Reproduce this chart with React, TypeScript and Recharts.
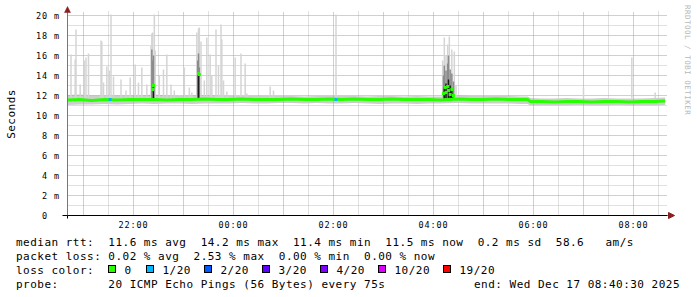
import React from "react";
import {
  ComposedChart,
  Area,
  Line,
  Scatter,
  XAxis,
  YAxis,
  CartesianGrid,
  ReferenceLine,
  ReferenceDot,
} from "recharts";

// time as "HH:MM" (evening of Dec 16 through morning of Dec 17)
const toMin = (s: string) => {
  const p = s.split(":").map(Number);
  const h = p[0] < 12 ? p[0] + 24 : p[0];
  return h * 60 + p[1] + (p[2] || 0) / 60;
};

const T0 = toMin("20:40:48");
const T1 = toMin("08:40:48");
const Y_MAX = 20.4;

const xTickLabels = ["22:00", "00:00", "02:00", "04:00", "06:00", "08:00"];
const xTicks = xTickLabels.map(toMin);
const yTicks = [0, 2, 4, 6, 8, 10, 12, 14, 16, 18, 20];

// median rtt (ms) and the smoke band around it
const medTimes = [
  "20:41", "20:55", "21:10", "21:25", "21:40", "21:55", "22:10", "22:25", "22:40", "22:55",
  "23:10", "23:25", "23:40", "23:55", "00:10", "00:25", "00:40", "00:55", "01:10", "01:25",
  "01:40", "01:55", "02:10", "02:25", "02:40", "02:55", "03:10", "03:25", "03:40", "03:55",
  "04:08", "04:30", "04:45", "05:00", "05:15", "05:30", "05:45", "05:53", "05:56", "06:10",
  "06:25", "06:40", "06:55", "07:10", "07:25", "07:40", "07:55", "08:10", "08:25", "08:38",
];
const medValues = [
  11.55, 11.6, 11.5, 11.6, 11.55, 11.6, 11.6, 11.6, 11.55, 11.6,
  11.6, 11.65, 11.6, 11.6, 11.65, 11.6, 11.6, 11.6, 11.65, 11.6,
  11.6, 11.65, 11.6, 11.65, 11.6, 11.6, 11.65, 11.6, 11.6, 11.6,
  11.55, 11.65, 11.6, 11.6, 11.65, 11.6, 11.6, 11.6, 11.4, 11.4,
  11.35, 11.4, 11.4, 11.35, 11.4, 11.4, 11.35, 11.4, 11.4, 11.45,
];
const smokeLow = [
  11.05, 11.1, 11.1, 11.15, 11.1, 11.15, 11.2, 11.15, 11.2, 11.2,
  11.15, 11.2, 11.2, 11.2, 11.25, 11.2, 11.2, 11.25, 11.25, 11.2,
  11.25, 11.2, 11.2, 11.25, 11.2, 11.15, 11.2, 11.2, 11.15, 11.2,
  11.2, 11.25, 11.2, 11.2, 11.2, 11.2, 11.15, 11.15, 11.0, 11.0,
  11.0, 11.0, 11.05, 11.0, 11.0, 11.05, 11.0, 11.0, 11.0, 11.05,
];
const smokeHigh = [
  12.05, 12.1, 12.0, 12.0, 12.0, 12.0, 12.0, 12.1, 12.0, 11.95,
  12.0, 12.05, 12.0, 11.95, 11.95, 11.95, 11.95, 11.95, 11.95, 11.9,
  11.95, 11.95, 11.95, 11.95, 11.9, 11.95, 11.95, 11.9, 11.95, 11.9,
  11.9, 12.0, 11.95, 11.95, 11.95, 11.95, 11.9, 11.9, 11.75, 11.7,
  11.7, 11.75, 11.7, 11.7, 11.75, 11.7, 11.7, 11.7, 11.75, 11.8,
];

// single-ping peaks (light smoke)
const spikeTimes = [
  "20:45", "20:50", "20:51", "20:56", "21:01", "21:03", "21:06", "21:21", "21:22", "21:24",
  "21:28", "21:31", "21:33", "21:36", "21:45", "21:51", "21:56", "22:02", "22:06", "22:10",
  "22:16", "22:21", "22:22", "22:23", "22:25", "22:26", "22:31", "22:36", "22:40", "22:45",
  "22:49", "23:01", "23:07", "23:10", "23:16", "23:18", "23:19", "23:21", "23:25", "23:28",
  "23:32", "23:34", "23:39", "23:42", "23:45", "23:46", "23:48", "23:52", "00:02", "00:09",
  "00:14", "00:16", "00:44", "00:48", "02:03", "04:11", "04:13", "04:15", "04:17", "04:19",
  "04:22", "04:25", "04:27", "07:00", "07:58", "08:26",
];
const spikeTops = [
  16.1, 15.6, 18.6, 13.1, 15.5, 15.8, 16.2, 17.5, 17.4, 13.3,
  14.9, 14.5, 20.1, 13.9, 13.6, 12.5, 13.8, 15.1, 13.3, 14.8,
  13.1, 17.0, 18.2, 18.3, 20.1, 16.5, 14.0, 14.6, 16.1, 13.1,
  12.5, 14.8, 12.8, 12.3, 18.3, 18.7, 18.8, 17.4, 13.5, 17.8,
  16.1, 14.0, 18.6, 15.0, 19.1, 17.6, 13.5, 12.4, 15.8, 16.2,
  15.2, 12.2, 12.9, 12.5, 20.1, 15.5, 17.8, 16.0, 17.1, 17.9,
  16.6, 16.4, 13.0, 12.8, 15.8, 12.3,
];

// denser smoke in the bursts
const coreTimes = [
  "22:22", "22:23", "22:24", "23:17", "23:18", "23:19", "04:12", "04:13", "04:15", "04:17",
  "04:18", "04:20", "04:22", "04:24",
];
const coreTops = [16.6, 15.5, 16.0, 15.5, 16.2, 14.8, 14.0, 15.0, 14.5, 15.2, 16.0, 14.6, 14.2, 13.4];
const darkTimes = ["22:24", "23:18", "04:13", "04:15", "04:18", "04:20", "04:22"];
const darkTops = [13.1, 14.2, 12.8, 13.2, 13.6, 13.0, 12.6];

// raised medians during bursts
const elevTimes = [
  "22:23", "22:24", "23:18", "23:19", "04:12", "04:14", "04:15", "04:17", "04:18", "04:20",
  "04:22", "04:24",
];
const elevValues = [12.6, 13.0, 14.2, 14.1, 12.2, 12.8, 12.3, 12.9, 12.5, 12.1, 12.6, 12.0];

// samples with 1/20 loss
const lossTimes = ["21:32", "02:03"];
const lossValues = [11.6, 11.6];

const SPIKE_BASE = 11.7;

const lossLegend = [
  { label: "0", color: "#26ff00" },
  { label: "1/20", color: "#00b8ff" },
  { label: "2/20", color: "#0059ff" },
  { label: "3/20", color: "#5e00ff" },
  { label: "4/20", color: "#7e00ff" },
  { label: "10/20", color: "#dd00ff" },
  { label: "19/20", color: "#ff0000" },
];
const legendBoxX = [108, 146, 204, 262, 320, 378, 443];

const rows = medTimes.map((t, i) => ({
  t: toMin(t),
  median: medValues[i],
  band: [smokeLow[i], smokeHigh[i]],
}));
const elevRows = elevTimes.map((t, i) => ({ t: toMin(t), v: elevValues[i] }));
const lossRows = lossTimes.map((t, i) => ({ t: toMin(t), v: lossValues[i] }));

// grid: minor every 30 min / 1 ms, major (red) every hour / 2 ms
const minorX: number[] = [];
for (let m = toMin("21:30"); m < T1; m += 60) minorX.push(m);
const majorX: number[] = [];
for (let m = toMin("21:00"); m < T1; m += 60) majorX.push(m);
const minorY: number[] = [];
for (let v = 1; v < 20; v += 2) minorY.push(v);
const majorY = yTicks.filter((v) => v > 0);

const MONO = "DejaVu Sans Mono";
const ARROW = "#8a1f1f";
const GRID_MINOR = "#c0c0c0";
const GRID_MAJOR = "#ee8080";
const PRE = { whiteSpace: "pre" as const };

const fmt = (m: number) => {
  const h = Math.floor(m / 60) % 24;
  const mm = Math.round(m % 60);
  return `${String(h).padStart(2, "0")}:${String(mm).padStart(2, "0")}`;
};

const XTick = ({ x, y, payload }: any) => (
  <text x={x} y={y + 12.5} textAnchor="middle" fontFamily={MONO} fontSize={8.5} letterSpacing={0.9} fill="#000">
    {fmt(payload.value)}
  </text>
);

const YTick = ({ x, y, payload }: any) => {
  const v = payload.value;
  return (
    <text
      x={v === 0 ? x - 19.5 : x - 7.5}
      y={y + 3.2}
      textAnchor="end"
      fontFamily={MONO}
      fontSize={8.5}
      letterSpacing={0.9}
      fill="#000"
    >
      {v === 0 ? "0" : `${v} m`}
    </text>
  );
};

const Square = (color: string) => (p: any) =>
  <rect x={p.cx - 1.5} y={p.cy - 1.5} width={3} height={3} fill={color} />;

export default function App() {
  return (
    <div style={{ position: "absolute", left: 0, top: 0, width: 697, height: 297, background: "#fff" }}>
      <ComposedChart width={697} height={297} data={rows} margin={{ top: 11.5, right: 29.5, bottom: 61.5, left: 0 }}>
        <CartesianGrid horizontalValues={minorY} verticalValues={minorX} stroke={GRID_MINOR} strokeDasharray="1 1" />
        <XAxis
          dataKey="t"
          type="number"
          domain={[T0, T1]}
          ticks={xTicks}
          interval={0}
          tick={XTick}
          tickLine={false}
          tickSize={0}
          tickMargin={0}
          axisLine={{ stroke: "#000" }}
          height={20}
          allowDataOverflow
        />
        <YAxis
          type="number"
          domain={[0, Y_MAX]}
          ticks={yTicks}
          interval={0}
          tick={YTick}
          tickLine={false}
          tickSize={0}
          tickMargin={0}
          axisLine={{ stroke: "#777" }}
          width={67.5}
          allowDataOverflow
        />

        {majorY.map((v) => (
          <ReferenceLine key={`gy${v}`} y={v} stroke={GRID_MAJOR} strokeWidth={1} strokeDasharray="1 1" />
        ))}
        {majorX.map((m) => (
          <ReferenceLine key={`gx${m}`} x={m} stroke={GRID_MAJOR} strokeWidth={1} strokeDasharray="1 1" />
        ))}

        <Area dataKey="band" type="linear" stroke="none" fill="#cdcdcd" fillOpacity={1} isAnimationActive={false} />

        {spikeTimes.map((t, i) => (
          <ReferenceLine
            key={`s${i}`}
            segment={[{ x: toMin(t), y: SPIKE_BASE }, { x: toMin(t), y: spikeTops[i] }]}
            stroke="#d4d4d4"
            strokeWidth={1.5}
            ifOverflow="hidden"
          />
        ))}
        {coreTimes.map((t, i) => (
          <ReferenceLine
            key={`c${i}`}
            segment={[{ x: toMin(t), y: SPIKE_BASE }, { x: toMin(t), y: coreTops[i] }]}
            stroke="#8c8c8c"
            strokeWidth={1.5}
          />
        ))}
        {darkTimes.map((t, i) => (
          <ReferenceLine
            key={`d${i}`}
            segment={[{ x: toMin(t), y: SPIKE_BASE }, { x: toMin(t), y: darkTops[i] }]}
            stroke="#1a1a1a"
            strokeWidth={1.5}
          />
        ))}

        <Line dataKey="median" type="linear" stroke="#26ff00" strokeWidth={3} dot={false} isAnimationActive={false} />
        <Scatter data={elevRows} dataKey="v" shape={Square("#26ff00")} isAnimationActive={false} />
        <Scatter data={lossRows} dataKey="v" shape={Square("#00b8ff")} isAnimationActive={false} />

        <ReferenceDot
          x={T1}
          y={0}
          ifOverflow="visible"
          shape={(p: any) => (
            <path d={`M${p.cx} ${p.cy}h2 M${p.cx + 1} ${p.cy - 3} L${p.cx + 7} ${p.cy} L${p.cx + 1} ${p.cy + 3}Z`} stroke={ARROW} fill={ARROW} strokeWidth={1} />
          )}
        />
        <ReferenceDot
          x={T0}
          y={Y_MAX}
          ifOverflow="visible"
          shape={(p: any) => (
            <path d={`M${p.cx - 3} ${p.cy + 1} L${p.cx} ${p.cy - 5} L${p.cx + 3} ${p.cy + 1}Z`} fill={ARROW} stroke={ARROW} strokeWidth={0.5} />
          )}
        />
        <ReferenceDot
          x={T0}
          y={0}
          ifOverflow="visible"
          shape={(p: any) => <path d={`M${p.cx - 5} ${p.cy}H${p.cx} M${p.cx} ${p.cy}V${p.cy + 3}`} stroke="#000" strokeWidth={1} />}
        />
      </ComposedChart>

      <svg width={697} height={297} style={{ position: "absolute", left: 0, top: 0, pointerEvents: "none" }}>
        <g fontFamily={MONO} fontSize={11} letterSpacing={0.48} fill="#000">
          <text x={15} y={114} textAnchor="middle" transform="rotate(-90 15 114)">Seconds</text>
          <text x={16} y={246} style={PRE}>median rtt:  11.6 ms avg  14.2 ms max  11.4 ms min  11.5 ms now  0.2 ms sd  58.6   am/s</text>
          <text x={16} y={259.5} style={PRE}>packet loss: 0.02 % avg  2.53 % max  0.00 % min  0.00 % now</text>
          <text x={16} y={273.5}>loss color:</text>
          {lossLegend.map((l, i) => (
            <g key={l.label}>
              <rect x={legendBoxX[i] + 0.5} y={265.5} width={7} height={7} fill={l.color} stroke="#000" strokeWidth={1} />
              <text x={legendBoxX[i] + 16.5} y={273.5}>{l.label}</text>
            </g>
          ))}
          <text x={16} y={287.5} style={PRE}>probe:       20 ICMP Echo Pings (56 Bytes) every 75s</text>
          <text x={680} y={287.5} textAnchor="end">end: Wed Dec 17 08:40:30 2025</text>
        </g>
        <text
          x={685}
          y={5}
          transform="rotate(90 685 5)"
          fontFamily={MONO}
          fontSize={7.5}
          letterSpacing={0.5}
          fill="#b8b8b8"
        >
          RRDTOOL / TOBI OETIKER
        </text>
      </svg>
    </div>
  );
}
